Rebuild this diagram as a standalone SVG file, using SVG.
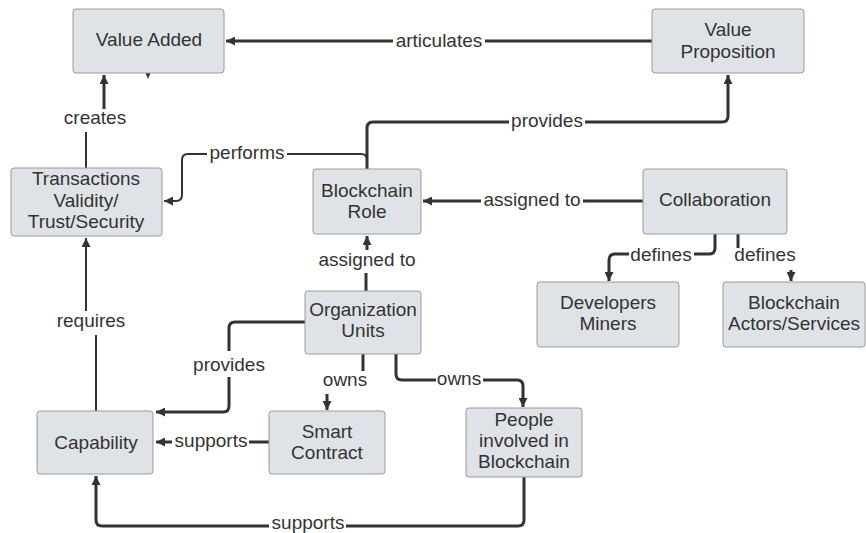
<svg xmlns="http://www.w3.org/2000/svg" width="866" height="533" viewBox="0 0 866 533">
<style>
.box{fill:#dfe3e8;stroke:#9a9a9a;stroke-width:1}
.t{font-family:"Liberation Sans",Arial,sans-serif;font-size:19px;fill:#333;text-anchor:middle}
.c{fill:none;stroke:#333;stroke-width:3}
.thin{stroke-width:2}
.bg{fill:#fff}
</style>
<defs>
<marker id="ah" markerUnits="userSpaceOnUse" markerWidth="10" markerHeight="9" refX="9" refY="4.5" orient="auto">
<path d="M0,0 L9,4.5 L0,9 z" fill="#333"/>
</marker>
</defs>
<rect width="866" height="533" fill="#fff"/>

<g id="connectors">
<path class="c" d="M652,41 H226" marker-end="url(#ah)"/>
<path class="c" d="M367,169 V128 Q367,122 373,122 H722 Q728,122 728,116 V75" marker-end="url(#ah)"/>
<path class="c thin" d="M367,160 Q367,154 361,154 H188 Q182,154 182,160 V195 Q182,201 176,201 H164" marker-end="url(#ah)"/>
<path class="c" d="M643,201 H423" marker-end="url(#ah)"/>
<path class="c thin" d="M86,168 V132"/>
<path class="c" d="M104,109 V75" marker-end="url(#ah)"/>
<path class="c thin" d="M96,411 V335"/>
<path class="c thin" d="M86,311 V238" marker-end="url(#ah)"/>
<path class="c" d="M366,291 V273"/>
<path class="c" d="M367,250 V236" marker-end="url(#ah)"/>
<path class="c" d="M715,234 V248 Q715,254 709,254 H615 Q609,254 609,260 V281" marker-end="url(#ah)"/>
<path class="c" d="M738,234 V248"/>
<path class="c" d="M791,270 V281" marker-end="url(#ah)"/>
<path class="c" d="M305,322 H235 Q229,322 229,328 V406 Q229,412 223,412 H156" marker-end="url(#ah)"/>
<path class="c" d="M363,354 V371"/>
<path class="c" d="M327,394 V410" marker-end="url(#ah)"/>
<path class="c" d="M269,442 H156" marker-end="url(#ah)"/>
<path class="c" d="M396,354 V374 Q396,380 402,380 H517 Q523,380 523,386 V407" marker-end="url(#ah)"/>
<path class="c" d="M524,477 V520 Q524,526 518,526 H102 Q96,526 96,520 V476" marker-end="url(#ah)"/>
<path d="M145.5,73 L150.5,73 L148,79 z" fill="#333"/>

<rect class="bg" x="393" y="32" width="92" height="20"/>
<rect class="bg" x="509" y="112" width="76" height="20"/>
<rect class="bg" x="207" y="144" width="80" height="20"/>
<rect class="bg" x="481" y="191" width="102" height="20"/>
<rect class="bg" x="629" y="244" width="65" height="20"/>
<rect class="bg" x="190" y="351" width="78" height="26"/>
<rect class="bg" x="436" y="370" width="47" height="20"/>
<rect class="bg" x="172" y="432" width="77" height="20"/>
<rect class="bg" x="269" y="516" width="77" height="17"/>

<text class="t" x="439" y="47">articulates</text>
<text class="t" x="547" y="127">provides</text>
<text class="t" x="247" y="159">performs</text>
<text class="t" x="532" y="206">assigned to</text>
<text class="t" x="95" y="124">creates</text>
<text class="t" x="91" y="327">requires</text>
<text class="t" x="367" y="266">assigned to</text>
<text class="t" x="661" y="261">defines</text>
<text class="t" x="765" y="261">defines</text>
<text class="t" x="229" y="371">provides</text>
<text class="t" x="345" y="386">owns</text>
<text class="t" x="459" y="385">owns</text>
<text class="t" x="211" y="447">supports</text>
<text class="t" x="308" y="529">supports</text>
</g>

<g id="value-added">
<rect class="box" x="73" y="9" width="151" height="64" rx="3"/>
<text class="t" x="149" y="45.5">Value Added</text>
</g>
<g id="value-proposition">
<rect class="box" x="652" y="9" width="152" height="64" rx="3"/>
<text class="t" x="728" y="36">Value</text>
<text class="t" x="728" y="57.5">Proposition</text>
</g>
<g id="transactions">
<rect class="box" x="11" y="168" width="151" height="68" rx="3"/>
<text class="t" x="86" y="185">Transactions</text>
<text class="t" x="86" y="206.5">Validity/</text>
<text class="t" x="86" y="228">Trust/Security</text>
</g>
<g id="blockchain-role">
<rect class="box" x="313" y="169" width="108" height="65" rx="3"/>
<text class="t" x="367" y="196.5">Blockchain</text>
<text class="t" x="367" y="217.5">Role</text>
</g>
<g id="collaboration">
<rect class="box" x="643" y="169" width="144" height="65" rx="3"/>
<text class="t" x="715" y="205.5">Collaboration</text>
</g>
<g id="developers-miners">
<rect class="box" x="537" y="282" width="142" height="65" rx="3"/>
<text class="t" x="608" y="308.5">Developers</text>
<text class="t" x="608" y="329.5">Miners</text>
</g>
<g id="blockchain-actors">
<rect class="box" x="723" y="282" width="142" height="65" rx="3"/>
<text class="t" x="794" y="308.5">Blockchain</text>
<text class="t" x="794" y="329.5">Actors/Services</text>
</g>
<g id="organization-units">
<rect class="box" x="305" y="291" width="116" height="63" rx="3"/>
<text class="t" x="363" y="315.5">Organization</text>
<text class="t" x="363" y="336.5">Units</text>
</g>
<g id="capability">
<rect class="box" x="37" y="411" width="116" height="63" rx="3"/>
<text class="t" x="96" y="448.5">Capability</text>
</g>
<g id="smart-contract">
<rect class="box" x="269" y="411" width="116" height="63" rx="3"/>
<text class="t" x="327" y="437.5">Smart</text>
<text class="t" x="327" y="458.5">Contract</text>
</g>
<g id="people">
<rect class="box" x="466" y="408" width="116" height="69" rx="3"/>
<text class="t" x="524" y="425.5">People</text>
<text class="t" x="524" y="446.5">involved in</text>
<text class="t" x="524" y="467.5">Blockchain</text>
</g>
</svg>
